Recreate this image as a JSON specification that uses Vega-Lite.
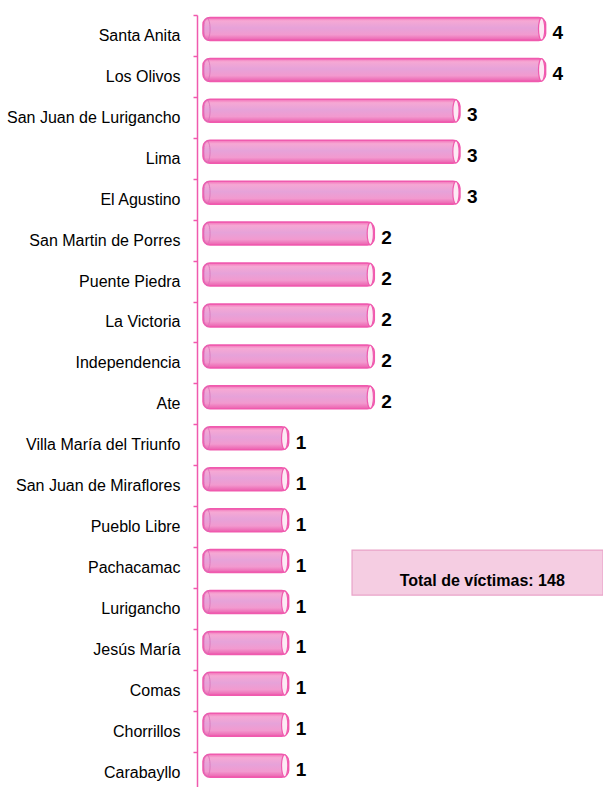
{
  "$schema": "https://vega.github.io/schema/vega-lite/v6.json",
  "width": 400,
  "height": 772,
  "autosize": {"type": "none"},
  "padding": {"left": 203, "top": 15, "right": 0, "bottom": 0},
  "background": "white",
  "config": {"view": {"stroke": null}, "font": "Liberation Sans"},
  "data": {"values": [
    {"distrito": "Santa Anita", "victimas": 4},
    {"distrito": "Los Olivos", "victimas": 4},
    {"distrito": "San Juan de Lurigancho", "victimas": 3},
    {"distrito": "Lima", "victimas": 3},
    {"distrito": "El Agustino", "victimas": 3},
    {"distrito": "San Martin de Porres", "victimas": 2},
    {"distrito": "Puente Piedra", "victimas": 2},
    {"distrito": "La Victoria", "victimas": 2},
    {"distrito": "Independencia", "victimas": 2},
    {"distrito": "Ate", "victimas": 2},
    {"distrito": "Villa María del Triunfo", "victimas": 1},
    {"distrito": "San Juan de Miraflores", "victimas": 1},
    {"distrito": "Pueblo Libre", "victimas": 1},
    {"distrito": "Pachacamac", "victimas": 1},
    {"distrito": "Lurigancho", "victimas": 1},
    {"distrito": "Jesús María", "victimas": 1},
    {"distrito": "Comas", "victimas": 1},
    {"distrito": "Chorrillos", "victimas": 1},
    {"distrito": "Carabayllo", "victimas": 1}
  ]},
  "encoding": {
    "y": {
      "field": "distrito", "type": "nominal", "sort": null,
      "scale": {"range": [0, 777.7], "paddingInner": 0, "paddingOuter": 0},
      "axis": {
        "title": null, "labelFont": "Liberation Sans", "labelFontSize": 16, "labelColor": "#000000",
        "labelPadding": 13, "offset": 6, "domainColor": "#F05AAE", "domainWidth": 1.5,
        "tickColor": "#F05AAE", "tickWidth": 1.5, "tickSize": 4, "tickBand": "extent", "labelLimit": 300
      }
    }
  },
  "layer": [
    {
      "mark": {
        "type": "bar", "height": 23, "yOffset": -6.5, "cornerRadius": 7,
        "stroke": "#F05AAE", "strokeWidth": 1.5,
        "color": {"gradient": "linear", "x1": 0, "y1": 0, "x2": 0, "y2": 1,
          "stops": [
            {"offset": 0, "color": "#F370B8"},
            {"offset": 0.15, "color": "#F6A8D4"},
            {"offset": 0.45, "color": "#E6A2D9"},
            {"offset": 0.75, "color": "#F29ACF"},
            {"offset": 1, "color": "#EC5FAE"}
          ]}
      },
      "encoding": {
        "x": {"field": "victimas", "type": "quantitative", "scale": {"domain": [0, 4.67], "nice": false}, "axis": null}
      }
    },
    {
      "mark": {
        "type": "point", "shape": "M0,-1 A0.28,1 0 1,1 0,1 A0.28,1 0 1,1 0,-1 Z",
        "size": 480, "filled": false, "fill": null, "stroke": "#D870B8", "strokeWidth": 1,
        "opacity": 0.8, "yOffset": -6.5, "xOffset": 4
      },
      "encoding": {
        "x": {"datum": 0, "type": "quantitative"}
      }
    },
    {
      "mark": {
        "type": "point", "shape": "M0,-1 A0.28,1 0 1,1 0,1 A0.28,1 0 1,1 0,-1 Z",
        "size": 500, "filled": true, "fill": "#FCEAF4", "stroke": "#F05AAE", "strokeWidth": 1.2,
        "opacity": 1, "yOffset": -6.5, "xOffset": -4
      },
      "encoding": {
        "x": {"field": "victimas", "type": "quantitative"}
      }
    },
    {
      "mark": {
        "type": "text", "align": "left", "baseline": "alphabetic", "dx": 7, "dy": 4,
        "font": "Liberation Sans", "fontSize": 19, "fontWeight": "bold", "color": "#000000"
      },
      "encoding": {
        "x": {"field": "victimas", "type": "quantitative"},
        "text": {"field": "victimas", "type": "quantitative"}
      }
    },
    {
      "data": {"values": [{"texto": "Total de víctimas: 148", "distrito": "Pachacamac"}]},
      "mark": {"type": "bar", "height": 45, "yOffset": 5, "fill": "#F5CDE2", "stroke": "#E9A3C8", "strokeWidth": 1.2},
      "encoding": {
        "x": {"datum": 1.74, "type": "quantitative"},
        "x2": {"datum": 4.67}
      }
    },
    {
      "data": {"values": [{"texto": "Total de víctimas: 148", "distrito": "Pachacamac"}]},
      "mark": {
        "type": "text", "align": "center", "baseline": "alphabetic", "dy": 18,
        "font": "Liberation Sans", "fontSize": 16, "fontWeight": "bold", "color": "#000000"
      },
      "encoding": {
        "x": {"datum": 3.26, "type": "quantitative"},
        "text": {"field": "texto", "type": "nominal"}
      }
    }
  ]
}
